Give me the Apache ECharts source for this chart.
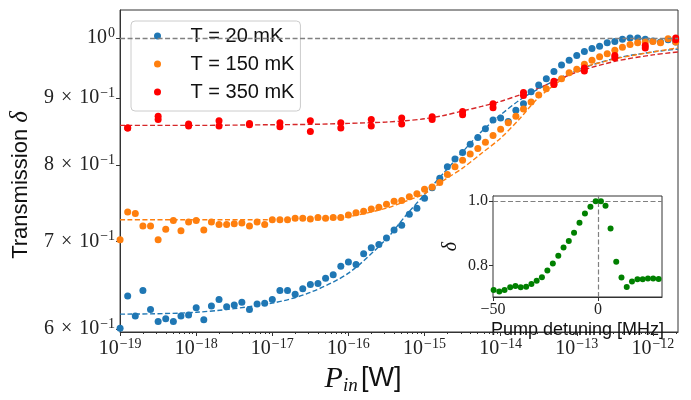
<!DOCTYPE html>
<html>
<head>
<meta charset="utf-8">
<script src="https://cdn.jsdelivr.net/npm/echarts@6/dist/echarts.min.js"></script>
<style>
  html, body { margin: 0; padding: 0; background: #fff; }
  #chart { width: 691px; height: 400px; }
</style>
</head>
<body>
<div id="chart"></div>
<script>
// input power, log10(P / W); one measurement every 0.1 decade
const logP = [
  -19.0, -18.9, -18.8, -18.7, -18.6, -18.5, -18.4, -18.3, -18.2, -18.1,
  -18.0, -17.9, -17.8, -17.7, -17.6, -17.5, -17.4, -17.3, -17.2, -17.1,
  -17.0, -16.9, -16.8, -16.7, -16.6, -16.5, -16.4, -16.3, -16.2, -16.1,
  -16.0, -15.9, -15.8, -15.7, -15.6, -15.5, -15.4, -15.3, -15.2, -15.1,
  -15.0, -14.9, -14.8, -14.7, -14.6, -14.5, -14.4, -14.3, -14.2, -14.1,
  -14.0, -13.9, -13.8, -13.7, -13.6, -13.5, -13.4, -13.3, -13.2, -13.1,
  -13.0, -12.9, -12.8, -12.7, -12.6, -12.5, -12.4, -12.3, -12.2, -12.1,
  -12.0, -11.9, -11.8, -11.7
];
const t20 = [
  0.601, 0.636, 0.614, 0.642, 0.621, 0.608, 0.611, 0.608, 0.614, 0.615,
  0.623, 0.610, 0.625, 0.632, 0.624, 0.626, 0.629, 0.621, 0.627, 0.628,
  0.632, 0.642, 0.642, 0.638, 0.644, 0.649, 0.650, 0.656, 0.660, 0.670,
  0.675, 0.672, 0.685, 0.692, 0.696, 0.704, 0.714, 0.720, 0.734, 0.742,
  0.755, 0.769, 0.782, 0.798, 0.809, 0.818, 0.830, 0.840, 0.853, 0.866,
  0.869, 0.864, 0.881, 0.891, 0.910, 0.921, 0.931, 0.943, 0.954, 0.962,
  0.970, 0.977, 0.982, 0.986, 0.992, 0.994, 0.998, 1.000, 1.000, 0.998,
  0.995, 0.993, 0.997, 0.993
];
const t150 = [
  0.702, 0.737, 0.735, 0.719, 0.719, 0.702, 0.715, 0.726, 0.713, 0.724,
  0.726, 0.714, 0.724, 0.721, 0.721, 0.722, 0.723, 0.719, 0.724, 0.721,
  0.727, 0.727, 0.727, 0.729, 0.729, 0.728, 0.730, 0.729, 0.730, 0.730,
  0.733, 0.736, 0.738, 0.741, 0.743, 0.747, 0.751, 0.752, 0.757, 0.761,
  0.767, 0.770, 0.776, 0.787, 0.798, 0.807, 0.816, 0.824, 0.833, 0.843,
  0.852, 0.862, 0.872, 0.883, 0.894, 0.905, 0.915, 0.922, 0.931, 0.941,
  0.947, 0.955, 0.962, 0.968, 0.973, 0.979, 0.984, 0.989, 0.992, 0.993,
  0.994, 0.992, 0.999, 0.993
];

// 350 mK was measured twice, every 0.4 decade
const logP350 = [-18.9, -18.5, -18.1, -17.7, -17.3, -16.9, -16.5, -16.1, -15.7, -15.3,
  -14.9, -14.5, -14.1, -13.7, -13.3, -12.9, -12.5, -12.1, -11.7];
const t350a = [0.854, 0.872, 0.860, 0.865, 0.861, 0.862, 0.865, 0.862, 0.867, 0.869,
  0.871, 0.879, 0.891, 0.909, 0.927, 0.949, 0.970, 0.987, 1.000];
const t350b = [0.854, 0.867, 0.857, 0.857, 0.859, 0.856, 0.849, 0.854, 0.857, 0.860,
  0.867, 0.874, 0.885, 0.904, 0.922, 0.944, 0.966, 0.983, 0.997];

// fitted curves
const fitLogP = [-19, -18, -17, -16.5, -16, -15.5, -15.25, -15, -14.75, -14.5,
  -14.25, -14, -13.75, -13.5, -13, -12.5, -12, -11.67];
const fit20 = [0.616, 0.618, 0.628, 0.640, 0.662, 0.703, 0.732, 0.760, 0.789, 0.819,
  0.849, 0.874, 0.897, 0.915, 0.945, 0.965, 0.976, 0.981];
const fit150 = [0.727, 0.727, 0.727, 0.727, 0.731, 0.742, 0.751, 0.761, 0.779, 0.796,
  0.817, 0.839, 0.868, 0.901, 0.945, 0.964, 0.976, 0.983];
const fit350 = [0.858, 0.858, 0.859, 0.8595, 0.861, 0.863, 0.865, 0.868, 0.873, 0.880,
  0.887, 0.895, 0.905, 0.916, 0.942, 0.960, 0.971, 0.976];

// inset: delta vs pump detuning [MHz]
const detuning = [-49.7, -47.0, -44.5, -41.8, -39.3, -36.8, -34.2, -31.7, -29.2, -26.7,
  -24.1, -21.5, -18.9, -16.4, -13.9, -11.4, -8.8, -6.2, -3.6, -1.1,
  1.4, 3.6, 6.0, 8.7, 11.2, 13.7, 16.2, 18.8, 21.3, 23.8, 26.3, 28.9];
const detDelta = [0.725, 0.720, 0.725, 0.733, 0.737, 0.733, 0.735, 0.743, 0.753, 0.764,
  0.785, 0.807, 0.831, 0.856, 0.876, 0.902, 0.933, 0.961, 0.982, 0.999,
  0.999, 0.985, 0.915, 0.812, 0.763, 0.734, 0.751, 0.758, 0.758, 0.760, 0.760, 0.759];

const xDecades = [-19, -18, -17, -16, -15, -14, -13, -12];
const yTicks = [0.6, 0.7, 0.8, 0.9, 1.0];

const serif = '"Liberation Serif", "DejaVu Serif", serif';
const sans = '"Liberation Sans", "DejaVu Sans", sans-serif';
const xMin = -19, xMax = -11.67;
const yMin = Math.log10(0.597), yMax = Math.log10(1.0506);

const lg = Math.log10;
const pts = (xs, ys) => xs.map((x, i) => [x, lg(ys[i])]);

const minorX = [];
xDecades.forEach(function (d) {
  for (let k = 2; k <= 9; k++) {
    const v = d + lg(k);
    if (v < xMax) minorX.push(v);
  }
});

const supRich = {
  b: { fontFamily: serif, fontSize: 20, color: '#222', lineHeight: 24 },
  m: { fontFamily: serif, fontSize: 20, color: '#222', lineHeight: 24, padding: [0, 7, 0, 7] },
  s: { fontFamily: serif, fontSize: 14, color: '#222', lineHeight: 14, verticalAlign: 'top', padding: [0, 0, 0, 1] }
};

const dashed = [5, 2.5];

const myChart = echarts.init(document.getElementById('chart'));

const option = {
  backgroundColor: '#fff',
  animation: false,
  grid: [
    { left: 120, right: 13, top: 10, bottom: 58, show: true, borderColor: '#333', borderWidth: 1 },
    { left: 493, right: 29, top: 196, bottom: 103, show: true, borderColor: '#333', borderWidth: 1,
      backgroundColor: '#fff', z: 5 }
  ],
  legend: {
    orient: 'vertical',
    left: 131, top: 21,
    data: ['T = 20 mK', 'T = 150 mK', 'T = 350 mK'],
    icon: 'circle',
    itemWidth: 56, itemHeight: 7, itemGap: 8,
    padding: [5, 6, 9, 23],
    backgroundColor: 'rgba(255,255,255,0.8)',
    borderColor: '#ccc', borderWidth: 1, borderRadius: 4,
    textStyle: { fontFamily: sans, fontSize: 20, color: '#111' }
  },
  xAxis: [
    {
      type: 'value', gridIndex: 0, min: xMin, max: xMax,
      axisLine: { onZero: false, lineStyle: { color: '#333' } },
      splitLine: { show: false },
      axisTick: { customValues: xDecades, length: 4, lineStyle: { color: '#333' } },
      axisLabel: {
        customValues: xDecades, margin: 5, rich: supRich,
        formatter: v => '{b|10}{s|−' + Math.round(-v) + '}'
      },
      name: '{p|P}{i|in} {w|[W]}', nameLocation: 'middle', nameGap: 31,
      nameTextStyle: {
        padding: [0, 72, 0, 0],
        rich: {
          p: { fontFamily: serif, fontStyle: 'italic', fontSize: 30, color: '#111', lineHeight: 32 },
          i: { fontFamily: serif, fontStyle: 'italic', fontSize: 19, color: '#111', lineHeight: 22, verticalAlign: 'bottom' },
          w: { fontFamily: sans, fontSize: 27, color: '#111', lineHeight: 32 }
        }
      }
    },
    {
      type: 'value', gridIndex: 0, min: xMin, max: xMax, position: 'bottom',
      axisLine: { show: false, onZero: false },
      splitLine: { show: false },
      axisTick: { customValues: minorX, length: 2, lineStyle: { color: '#333' } },
      axisLabel: { show: false }
    },
    {
      type: 'value', gridIndex: 1, min: -50, max: 30.5,
      axisLine: { onZero: false, lineStyle: { color: '#333' } },
      splitLine: { show: false },
      axisTick: { customValues: [-50, 0], length: 4, lineStyle: { color: '#333' } },
      axisLabel: {
        customValues: [-50, 0], margin: 5, fontFamily: serif, fontSize: 16, color: '#222',
        formatter: v => (v < 0 ? '−' + (-v) : '' + v)
      },
      name: 'Pump detuning [MHz]', nameLocation: 'middle', nameGap: 24,
      nameTextStyle: { fontFamily: sans, fontSize: 18, color: '#111' }
    }
  ],
  yAxis: [
    {
      type: 'value', gridIndex: 0, min: yMin, max: yMax,
      axisLine: { onZero: false, lineStyle: { color: '#333' } },
      splitLine: { show: false },
      axisTick: { customValues: yTicks.map(lg), length: 4, lineStyle: { color: '#333' } },
      axisLabel: {
        customValues: yTicks.map(lg), margin: 5, rich: supRich,
        formatter: function (v) {
          const d = Math.round(Math.pow(10, v) * 10);
          if (d === 10) return '{b|10}{s|0}';
          return '{b|' + d + '}{m|×}{b|10}{s|−1}';
        }
      },
      name: '{t|Transmission }{d|δ}', nameLocation: 'middle', nameRotate: 90, nameGap: 82,
      nameTextStyle: {
        padding: [0, 28, 0, 0],
        rich: {
          t: { fontFamily: sans, fontSize: 22, color: '#111' },
          d: { fontFamily: serif, fontStyle: 'italic', fontSize: 25, color: '#111' }
        }
      }
    },
    {
      type: 'value', gridIndex: 1, min: 0.703, max: 1.0155,
      axisLine: { onZero: false, lineStyle: { color: '#333' } },
      splitLine: { show: false },
      axisTick: { customValues: [0.8, 1.0], length: 4, lineStyle: { color: '#333' } },
      axisLabel: {
        customValues: [0.8, 1.0], margin: 5, fontFamily: serif, fontSize: 16, color: '#222',
        formatter: v => v.toFixed(1)
      },
      name: 'δ', nameLocation: 'middle', nameRotate: 90, nameGap: 32,
      nameTextStyle: { fontFamily: serif, fontStyle: 'italic', fontSize: 20, color: '#111' }
    }
  ],
  series: [
    {
      name: 'fit 20', type: 'line', xAxisIndex: 0, yAxisIndex: 0, smooth: 0.3,
      showSymbol: false, silent: true, z: 2,
      lineStyle: { color: '#1f77b4', width: 1.4, type: dashed },
      data: pts(fitLogP, fit20)
    },
    {
      name: 'fit 150', type: 'line', xAxisIndex: 0, yAxisIndex: 0, smooth: 0.3,
      showSymbol: false, silent: true, z: 2,
      lineStyle: { color: '#ff7f0e', width: 1.4, type: dashed },
      data: pts(fitLogP, fit150)
    },
    {
      name: 'fit 350', type: 'line', xAxisIndex: 0, yAxisIndex: 0, smooth: 0.3,
      showSymbol: false, silent: true, z: 2,
      lineStyle: { color: '#d62728', width: 1.4, type: dashed },
      data: pts(fitLogP, fit350)
    },
    {
      name: 'T = 20 mK', type: 'scatter', xAxisIndex: 0, yAxisIndex: 0,
      symbolSize: 7, itemStyle: { color: '#1f77b4', opacity: 1 }, z: 3,
      data: pts(logP, t20),
      markLine: {
        silent: true, symbol: 'none', label: { show: false },
        lineStyle: { color: '#808080', width: 1.3, type: dashed },
        data: [{ yAxis: 0 }]
      }
    },
    {
      name: 'T = 150 mK', type: 'scatter', xAxisIndex: 0, yAxisIndex: 0,
      symbolSize: 7, itemStyle: { color: '#ff7f0e', opacity: 1 }, z: 3,
      data: pts(logP, t150)
    },
    {
      name: 'T = 350 mK', type: 'scatter', xAxisIndex: 0, yAxisIndex: 0,
      symbolSize: 7, itemStyle: { color: '#ff0000', opacity: 1 }, z: 3,
      data: pts(logP350, t350a).concat(pts(logP350, t350b))
    },
    {
      name: 'detuning', type: 'scatter', xAxisIndex: 2, yAxisIndex: 1,
      symbolSize: 6, itemStyle: { color: '#008000', opacity: 1 }, z: 6,
      data: detuning.map((x, i) => [x, detDelta[i]]),
      markLine: {
        silent: true, symbol: 'none', label: { show: false },
        lineStyle: { color: '#808080', width: 1.2, type: dashed },
        data: [{ yAxis: 1.0 }, { xAxis: 0 }]
      }
    }
  ]
};

myChart.setOption(option);
</script>
</body>
</html>
